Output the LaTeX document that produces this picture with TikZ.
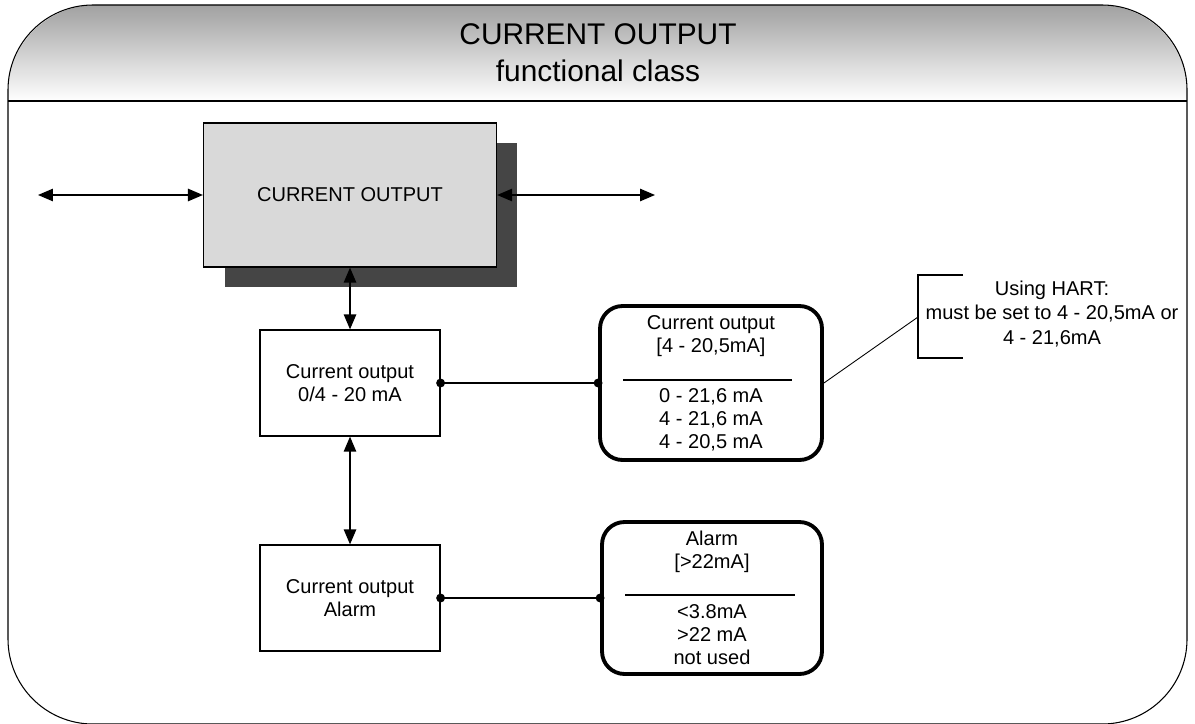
\documentclass[tikz,border=0pt]{standalone}
\usepackage{fontspec}
\setmainfont{Liberation Sans}
\usetikzlibrary{arrows.meta}

\newcommand\blockfont{\fontsize{11.4}{13.1}\selectfont}
\newcommand\titlefont{\fontsize{17}{21}\selectfont}

\begin{document}
\begin{tikzpicture}[x=0.02cm, y=-0.02cm,
  frame/.style={line width=0.6pt},
  block/.style={draw, line width=0.7pt, fill=white, minimum width=3.6cm, minimum height=2.12cm, align=center, font=\blockfont},
  mainblock/.style={draw, line width=0.7pt, fill=black!15, minimum width=5.86cm, minimum height=2.88cm, font=\blockfont},
  shadowblock/.style={fill=black!73, minimum width=5.86cm, minimum height=2.88cm},
  rbox/.style={draw, line width=2.2pt, rounded corners=0.45cm, fill=white},
  lbl/.style={align=center, font=\blockfont, inner sep=0pt},
  arrow/.style={<->, line width=0.9pt, >={Triangle[length=8.5pt, width=7pt]}},
  link/.style={{Circle[length=5pt]}-{Circle[length=5pt]}, line width=0.7pt, shorten <=-2.5pt, shorten >=-2.5pt}
]
\useasboundingbox (0,0) rectangle (1195,723);

% Frame
\shade[top color=black!37, bottom color=white] (8,101) [rounded corners=1.75cm] -- (8,5) -- (1187,5) [sharp corners] -- (1187,101) -- cycle;
\draw[frame, rounded corners=1.7cm] (8,5) rectangle (1187,724);
\draw[frame] (8,101) -- (1187,101);
\node[align=center, font=\titlefont] (title) at (598,53) {CURRENT OUTPUT\\functional class};

% Nodes
\node[shadowblock] (mainshadow) at (371,215) {};
\node[mainblock] (main) at (350,195) {CURRENT OUTPUT};
\node[block] (cur) at (350,383) {Current output\\0/4 - 20 mA};
\node[block] (alarm) at (350,598) {Current output\\Alarm};

\node[rbox, minimum width=4.44cm, minimum height=3.08cm] (range) at (711,383) {};
\node[lbl] (rangehead) at (711,336) {Current output\\{}[4 - 20,5mA]};
\node[lbl] (rangeopts) at (711,420) {0 - 21,6 mA\\4 - 21,6 mA\\4 - 20,5 mA};
\draw[line width=0.7pt] (623,380) -- (792,380);

\node[rbox, minimum width=4.4cm, minimum height=3.04cm] (alarmset) at (712,598) {};
\node[lbl] (alarmhead) at (712,552) {Alarm\\{}[>22mA]};
\node[lbl] (alarmopts) at (712,635) {<3.8mA\\>22 mA\\not used};
\draw[line width=0.7pt] (625,595) -- (795,595);

\node[lbl, font=\fontsize{11.4}{13.7}\selectfont] (hart) at (1052,314) {Using HART:\\must be set to 4 - 20,5mA or\\4 - 21,6mA};
\coordinate (hartpin) at (918,317);
\draw[line width=0.6pt] (963,275) -- (918,275) -- (918,358) -- (963,358);

\coordinate (inL) at (38,195);
\coordinate (outR) at (655,195);

% Arrows
\draw[arrow] (inL) -- (main.west);
\draw[arrow] (main.east) -- (outR);
\draw[arrow] (main.south) -- (cur.north);
\draw[arrow] (cur.south) -- (alarm.north);
\draw[link] (cur.east) -- (range.west);
\draw[link] (alarm.east) -- (alarmset.west);
\draw[line width=0.5pt] (range.east) -- (hartpin);

\end{tikzpicture}
\end{document}
